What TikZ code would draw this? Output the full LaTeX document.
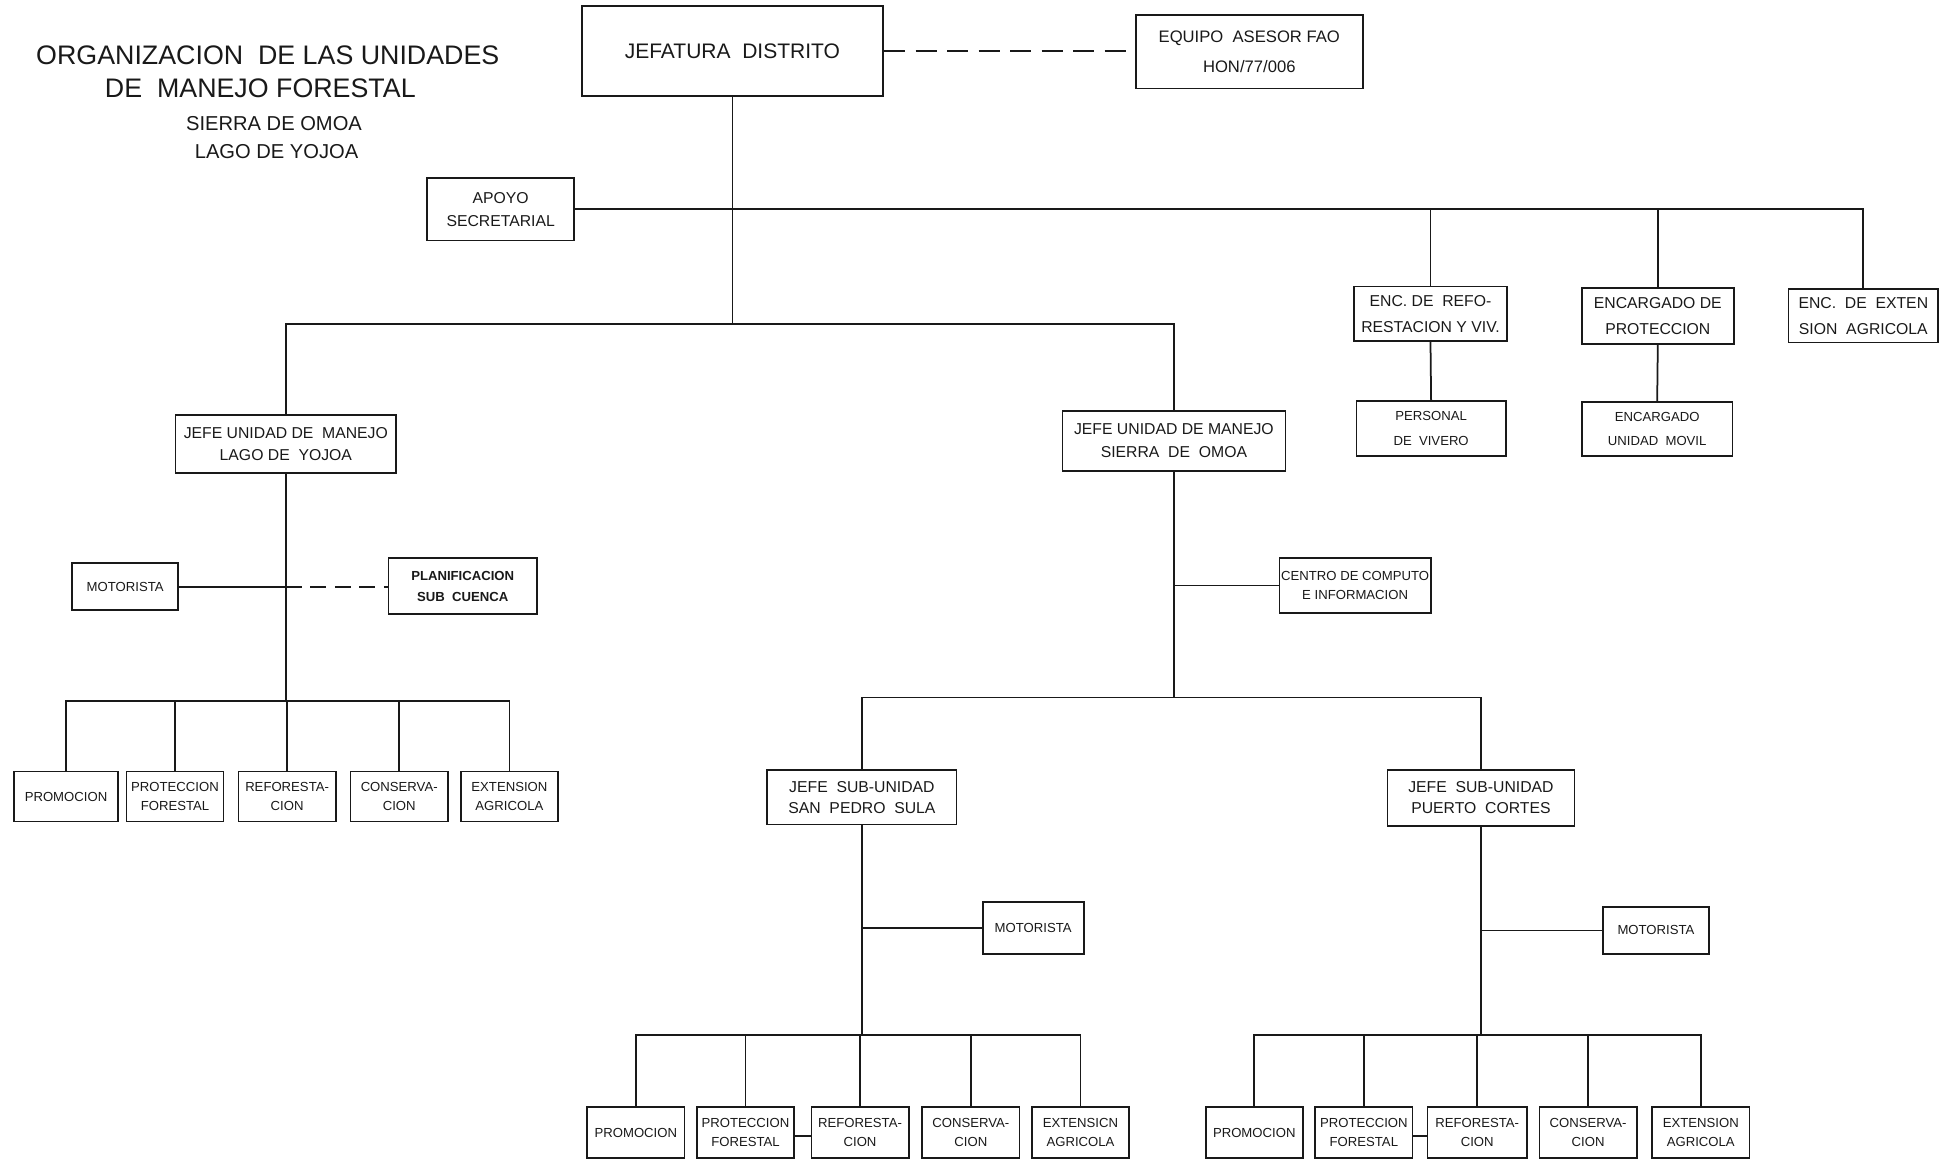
\documentclass[tikz,border=0pt]{standalone}
\usepackage{fontspec}
\setmainfont{Liberation Sans}
\definecolor{ink}{RGB}{25,25,25}

\begin{document}
\begin{tikzpicture}[x=0.025cm, y=-0.025cm, color=ink,
    box/.style={draw, line width=1pt, align=center, inner sep=1pt},
    bigtxt/.style={font=\fontsize{12}{15}\selectfont},
    midtxt/.style={font=\fontsize{9}{13}\selectfont},
    smalltxt/.style={font=\fontsize{7.5}{11}\selectfont},
    rowbox/.style={box, smalltxt, minimum width=1.95cm, minimum height=1cm},
    link/.style={line width=1pt},
    dashlink/.style={line width=1pt, dash pattern=on 12pt off 6pt}]
\useasboundingbox (0,0) rectangle (1568,932);

% ---- title ----
\node[font=\fontsize{15.3}{19}\selectfont] (title1) at (215,44) {ORGANIZACION\ \ DE LAS UNIDADES};
\node[font=\fontsize{15.3}{19}\selectfont] (title2) at (209,71) {DE\ \ MANEJO FORESTAL};
\node[font=\fontsize{11.5}{14}\selectfont] (sub1) at (220,99) {SIERRA DE OMOA};
\node[font=\fontsize{11.5}{14}\selectfont] (sub2) at (222,122) {LAGO DE YOJOA};

% ---- district head ----
\node[box, bigtxt, minimum width=6.05cm, minimum height=1.8cm] (jefatura) at (588,41) {JEFATURA\ \ DISTRITO};
\node[box, font=\fontsize{9.5}{17}\selectfont, minimum width=4.55cm, minimum height=1.475cm] (equipo) at (1003,41.5) {EQUIPO\ \ ASESOR FAO\\HON/77/006};
\node[box, midtxt, minimum width=2.95cm, minimum height=1.25cm] (apoyo) at (402,168) {APOYO\\SECRETARIAL};

% ---- staff on the right ----
\node[box, font=\fontsize{9}{15}\selectfont, minimum width=3.075cm, minimum height=1.1cm] (encrefo) at (1148.5,252) {ENC. DE\ \ REFO-\\RESTACION Y VIV.};
\node[box, font=\fontsize{9}{15}\selectfont, minimum width=3.05cm, minimum height=1.125cm] (encprot) at (1331,253.5) {ENCARGADO DE\\PROTECCION};
\node[box, font=\fontsize{9}{15}\selectfont, minimum width=3.0cm, minimum height=1.075cm] (encext) at (1496,253.5) {ENC.\ \ DE\ \ EXTEN\\SION\ \ AGRICOLA};
\node[box, font=\fontsize{7.5}{14}\selectfont, minimum width=3.0cm, minimum height=1.1cm] (personal) at (1149,344) {PERSONAL\\DE\ \ VIVERO};
\node[box, font=\fontsize{7.5}{14}\selectfont, minimum width=3.025cm, minimum height=1.075cm] (movil) at (1330.5,344.5) {ENCARGADO\\UNIDAD\ \ MOVIL};

% ---- unit heads ----
\node[box, midtxt, minimum width=4.425cm, minimum height=1.175cm] (jefelago) at (229.5,356.5) {JEFE UNIDAD DE\ \ MANEJO\\LAGO DE\ \ YOJOA};
\node[box, midtxt, minimum width=4.475cm, minimum height=1.2cm] (jefesierra) at (942.5,354) {JEFE UNIDAD DE MANEJO\\SIERRA\ \ DE\ \ OMOA};

% ---- lago de yojoa unit ----
\node[box, smalltxt, minimum width=2.125cm, minimum height=0.95cm] (motor1) at (100.5,471) {MOTORISTA};
\node[box, font=\fontsize{7.5}{12}\selectfont\bfseries, minimum width=2.975cm, minimum height=1.125cm] (planif) at (371.5,470.5) {PLANIFICACION\\SUB\ \ CUENCA};
\node[rowbox, minimum width=2.1cm] (prom1) at (53,639.5) {PROMOCION};
\node[rowbox] (prot1) at (140.5,639.5) {PROTECCION\\FORESTAL};
\node[rowbox] (refo1) at (230.5,639.5) {REFORESTA-\\CION};
\node[rowbox] (cons1) at (320.5,639.5) {CONSERVA-\\CION};
\node[rowbox] (ext1) at (409,639.5) {EXTENSION\\AGRICOLA};

% ---- sierra de omoa unit ----
\node[box, smalltxt, minimum width=3.0cm, minimum height=1.1cm] (centro) at (1088,470) {CENTRO DE COMPUTO\\E INFORMACION};
\node[box, font=\fontsize{9}{12}\selectfont, minimum width=3.8cm, minimum height=1.1cm] (spsula) at (692,640) {JEFE\ \ SUB-UNIDAD\\SAN\ \ PEDRO\ \ SULA};
\node[box, font=\fontsize{9}{12}\selectfont, minimum width=3.75cm, minimum height=1.125cm] (pcortes) at (1189,640.5) {JEFE\ \ SUB-UNIDAD\\PUERTO\ \ CORTES};
\node[box, smalltxt, minimum width=2.025cm, minimum height=1.05cm] (motor2) at (829.5,745) {MOTORISTA};
\node[box, smalltxt, minimum width=2.125cm, minimum height=0.95cm] (motor3) at (1329.5,747) {MOTORISTA};

% sub-unit san pedro sula
\node[rowbox, minimum height=1.025cm] (prom2) at (510.5,909.5) {PROMOCION};
\node[rowbox, minimum height=1.025cm] (prot2) at (598.5,909.5) {PROTECCION\\FORESTAL};
\node[rowbox, minimum height=1.025cm] (refo2) at (690.5,909.5) {REFORESTA-\\CION};
\node[rowbox, minimum height=1.025cm] (cons2) at (779.5,909.5) {CONSERVA-\\CION};
\node[rowbox, minimum height=1.025cm] (ext2) at (867.5,909.5) {EXTENSICN\\AGRICOLA};

% sub-unit puerto cortes
\node[rowbox, minimum height=1.025cm] (prom3) at (1007,909.5) {PROMOCION};
\node[rowbox, minimum height=1.025cm] (prot3) at (1095,909.5) {PROTECCION\\FORESTAL};
\node[rowbox, minimum height=1.025cm, minimum width=2.0cm] (refo3) at (1186,909.5) {REFORESTA-\\CION};
\node[rowbox, minimum height=1.025cm] (cons3) at (1275,909.5) {CONSERVA-\\CION};
\node[rowbox, minimum height=1.025cm] (ext3) at (1365.5,909.5) {EXTENSION\\AGRICOLA};

% ---- bus levels ----
\coordinate (busA) at (587,168);
\coordinate (busB) at (587,260);
\coordinate (busL) at (230,563);
\coordinate (busR) at (941,560);
\coordinate (busS) at (692,831);
\coordinate (busP) at (1188,831);

% ---- connectors: top ----
\draw[dashlink] (jefatura.east) -- (jefatura.east -| equipo.west);
\draw[link] (jefatura.south) -- (jefatura.south |- busB);
\draw[link] (apoyo.east) -- (apoyo.east -| encext.north) -- (encext.north);
\draw[link] (encrefo.north) -- (encrefo.north |- busA);
\draw[link] (encprot.north) -- (encprot.north |- busA);
\draw[link] (encrefo.south) -- (personal.north);
\draw[link] (encprot.south) -- (movil.north);
\draw[link] (jefelago.north) -- (jefelago.north |- busB) -- (jefesierra.north |- busB) -- (jefesierra.north);

% ---- connectors: lago de yojoa ----
\coordinate (jL) at (jefelago.south |- motor1.east);
\draw[link] (jefelago.south) -- (jefelago.south |- busL);
\draw[link] (motor1.east) -- (jL);
\draw[dashlink, dash pattern=on 9pt off 5pt] (jL) -- (jL -| planif.west);
\draw[link] (prom1.north) -- (prom1.north |- busL) -- (ext1.north |- busL) -- (ext1.north);
\draw[link] (prot1.north) -- (prot1.north |- busL);
\draw[link] (refo1.north) -- (refo1.north |- busL);
\draw[link] (cons1.north) -- (cons1.north |- busL);

% ---- connectors: sierra de omoa ----
\draw[link] (jefesierra.south) -- (jefesierra.south |- busR);
\draw[link] (centro.west) -- (centro.west -| jefesierra.south);
\draw[link] (spsula.north) -- (spsula.north |- busR) -- (pcortes.north |- busR) -- (pcortes.north);

% san pedro sula
\draw[link] (spsula.south) -- (spsula.south |- busS);
\draw[link] (motor2.west) -- (motor2.west -| spsula.south);
\draw[link] (prom2.north) -- (prom2.north |- busS) -- (ext2.north |- busS) -- (ext2.north);
\draw[link] (prot2.north) -- (prot2.north |- busS);
\draw[link] (refo2.north) -- (refo2.north |- busS);
\draw[link] (cons2.north) -- (cons2.north |- busS);
\draw[link] ([yshift=-2pt]prot2.east) -- ([yshift=-2pt]refo2.west);

% puerto cortes
\draw[link] (pcortes.south) -- (pcortes.south |- busP);
\draw[link] (motor3.west) -- (motor3.west -| pcortes.south);
\draw[link] (prom3.north) -- (prom3.north |- busP) -- (ext3.north |- busP) -- (ext3.north);
\draw[link] (prot3.north) -- (prot3.north |- busP);
\draw[link] (refo3.north) -- (refo3.north |- busP);
\draw[link] (cons3.north) -- (cons3.north |- busP);
\draw[link] ([yshift=-2pt]prot3.east) -- ([yshift=-2pt]refo3.west);
\end{tikzpicture}
\end{document}
